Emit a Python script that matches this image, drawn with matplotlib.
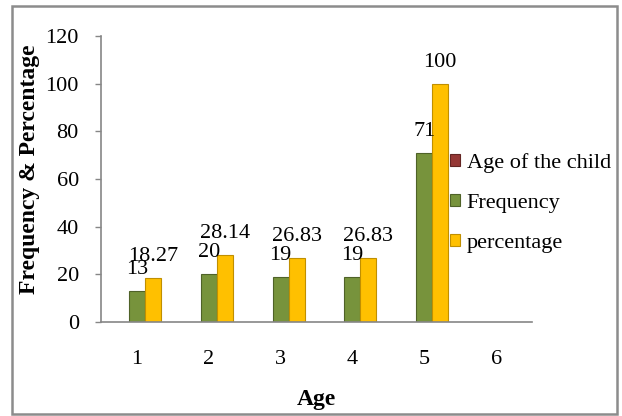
import numpy as np
import matplotlib
matplotlib.use("Agg")
import matplotlib.pyplot as plt
from matplotlib.patches import Rectangle

ages = [1, 2, 3, 4, 5, 6]
age_of_child = [np.nan, np.nan, np.nan, np.nan, np.nan, np.nan]
frequency = [13, 20, 19, 19, 71, np.nan]
percentage = [18.27, 28.14, 26.83, 26.83, 100, np.nan]
freq_labels = ["13", "20", "19", "19", "71", ""]
pct_labels = ["18.27", "28.14", "26.83", "26.83", "100", ""]

plt.rcParams["font.family"] = ["Liberation Serif", "DejaVu Serif"]
fs = 16

W, H = 622, 416
fig = plt.figure(figsize=(W / 100, H / 100), dpi=100)
ax = fig.add_axes([101 / W, (H - 322) / H, (532 - 101) / W, (322 - 36) / H])

x = np.arange(len(ages))
w = 0.223
grey = "#868686"

ax.bar(x - w, age_of_child, w, color="#953735", edgecolor="#632523", linewidth=0.8,
       label="Age of the child")
ax.bar(x, frequency, w, color="#77933C", edgecolor="#4F6228", linewidth=0.8,
       label="Frequency")
ax.bar(x + w, percentage, w, color="#FFC000", edgecolor="#C08F00", linewidth=0.8,
       label="percentage")

# data labels
for i in range(len(ages)):
    if freq_labels[i]:
        ax.annotate(freq_labels[i], (x[i], frequency[i]), xytext=(0, 15.5),
                    textcoords="offset points", ha="center", va="center", fontsize=fs)
    if pct_labels[i]:
        ax.annotate(pct_labels[i], (x[i] + w, percentage[i]), xytext=(0, 15.5),
                    textcoords="offset points", ha="center", va="center", fontsize=fs)

ax.set_xlim(-0.5, len(ages) - 0.5)
ax.set_ylim(0, 120)
ax.set_yticks(range(0, 121, 20))
ax.set_xticks(x)
ax.set_xticklabels([str(a) for a in ages])

for s in ["top", "right"]:
    ax.spines[s].set_visible(False)
for s in ["left", "bottom"]:
    ax.spines[s].set_color(grey)
    ax.spines[s].set_linewidth(1.2)

ax.tick_params(axis="y", length=4, width=1, color=grey, pad=12, labelsize=fs)
ax.tick_params(axis="x", length=0, pad=20, labelsize=fs)

ax.set_ylabel("Frequency & Percentage", fontsize=fs + 1, fontweight="bold")
ax.yaxis.label.set_va("center")
ax.yaxis.set_label_coords((30 - 101) / 431, (322 - 169) / 286)
ax.set_xlabel("Age", fontsize=fs + 1, fontweight="bold")
ax.xaxis.label.set_va("center")
ax.xaxis.set_label_coords(0.5, (322 - 399) / 286)

fig.legend(loc="center left", bbox_to_anchor=(450 / W, (H - 203) / H),
           frameon=False, fontsize=fs, handlelength=0.45, handleheight=0.45,
           handletextpad=0.3, labelspacing=0.95, borderpad=0, borderaxespad=0)

fig.patches.append(Rectangle((12 / W, 2 / H), (617 - 12) / W, (410 - 2) / H,
                             transform=fig.transFigure, fill=False,
                             edgecolor="#8c8c8c", linewidth=1.8))

fig.savefig("out.png", dpi=100)
